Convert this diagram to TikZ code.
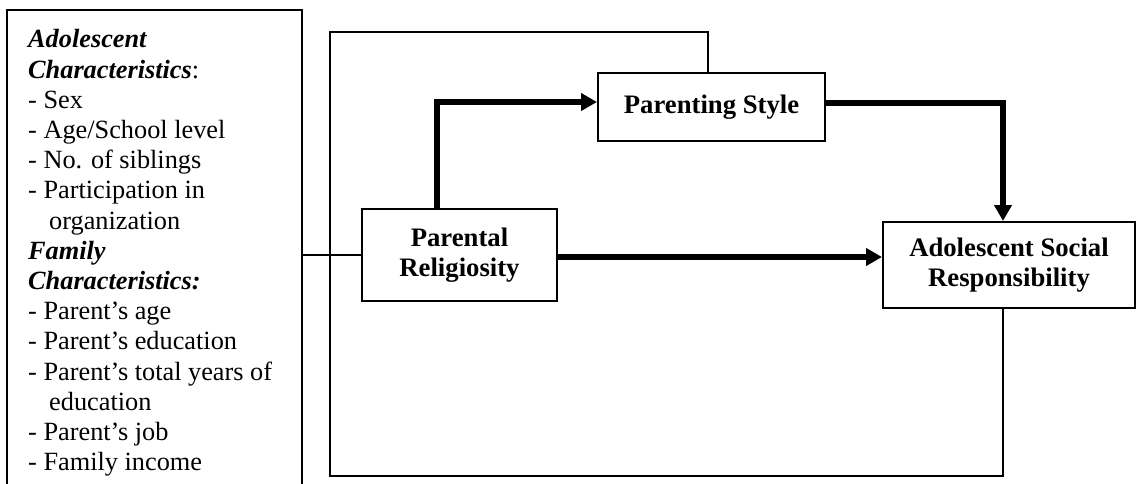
\documentclass[tikz,border=0pt]{standalone}
\usepackage{fontspec}
\setmainfont{Liberation Serif}
\usetikzlibrary{arrows.meta}
\begin{document}
\begin{tikzpicture}[x=1pt,y=-1pt,
  thinline/.style={line width=2pt},
  thickline/.style={line width=5.5pt,-{Triangle[length=16pt,width=17pt]}},
  box/.style={draw,line width=2pt,align=center,inner sep=0pt,
    font=\bfseries\fontsize{26.7}{30}\selectfont}]
\path[use as bounding box] (0,0) rectangle (1137,484);
% left box (open at bottom)
\draw[thinline] (7,486) -- (7,10) -- (302,10) -- (302,486);
\node[anchor=north west,inner sep=0pt,align=left,
  font=\fontsize{26.3}{30.2}\selectfont] (chars) at (28,29.5)
 {\textbf{\textit{Adolescent}}\\
  \textbf{\textit{Characteristics}}:\\
  - Sex\\
  - Age/School level\\
  - No. of siblings\\
  - Participation in\\
  \hspace*{21pt}organization\\
  \textbf{\textit{Family}}\\
  \textbf{\textit{Characteristics:}}\\
  - Parent’s age\\
  - Parent’s education\\
  - Parent’s total years of\\
  \hspace*{21pt}education\\
  - Parent’s job\\
  - Family income};
% boxes
\node[box,minimum width=227pt,minimum height=68pt] (PS) at (711.5,107) {Parenting Style};
\node[box,minimum width=195pt,minimum height=92pt] (PR) at (459.5,255) {Parental\\Religiosity};
\node[box,minimum width=252pt,minimum height=86pt] (ASR) at (1009,265) {Adolescent Social\\Responsibility};
% helper coordinates
\coordinate (lbE) at (302,0);
\coordinate (spT) at (330,32);
\coordinate (spB) at (330,476);
\coordinate (tr) at (708,32);
\coordinate (br) at (1003,476);
\coordinate (tk) at (437,102);
\coordinate (tk2) at (1003,103);
\coordinate (pa) at (0,257);
% thin connectors
\draw[thinline] (PR.west) -- (PR.west -| lbE);
\draw[thinline] (PS.north -| tr) -- (tr) -- (spT) -- (spB) -- (br) -- (ASR.south -| br);
% thick arrows
\draw[thickline] (PR.north -| tk) -- (tk) -- (PS.west |- tk);
\draw[thickline] (PS.east |- tk2) -- (tk2) -- (ASR.north -| tk2);
\draw[thickline] (PR.east |- pa) -- (ASR.west |- pa);
\end{tikzpicture}
\end{document}
